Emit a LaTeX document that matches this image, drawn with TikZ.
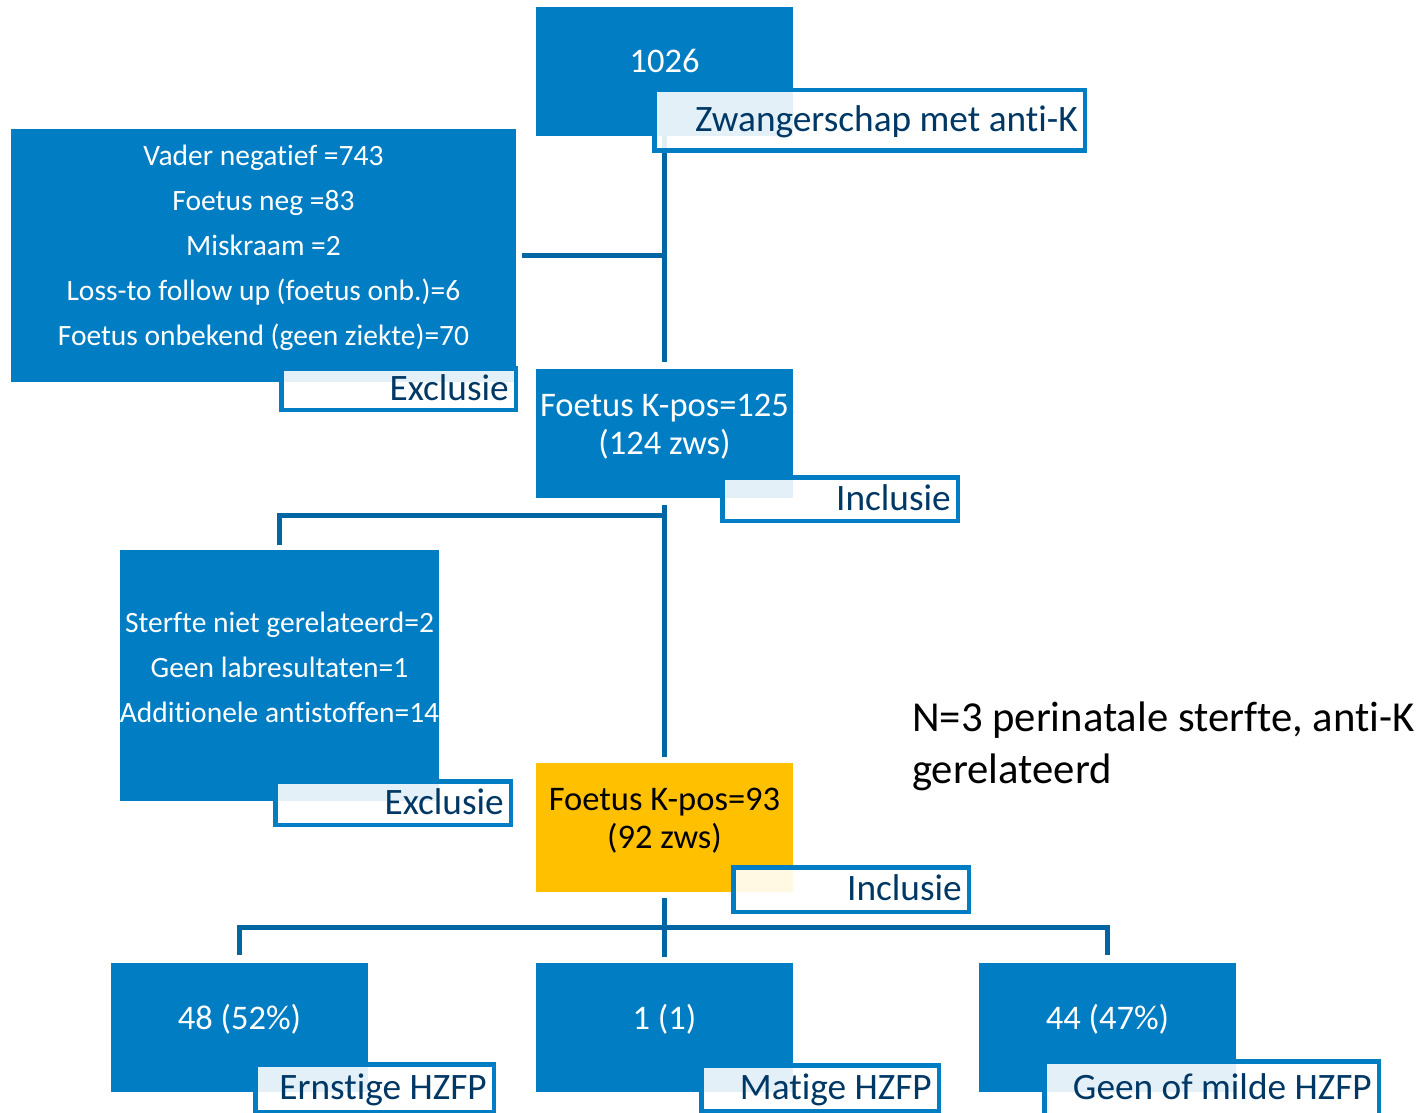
\documentclass[tikz,border=0pt]{standalone}
\usepackage{fontspec}
\setmainfont{Carlito}[Ligatures={NoCommon}]
\usepackage{tikz}
\usetikzlibrary{positioning}
\definecolor{boxblue}{RGB}{0,125,195}
\definecolor{linkblue}{RGB}{0,101,163}
\definecolor{tagnavy}{RGB}{0,56,101}
\definecolor{gold}{RGB}{255,192,0}

\begin{document}
\begin{tikzpicture}[x=1pt, y=-1pt,
  box/.style={fill=boxblue, anchor=north west, inner sep=0pt, outer sep=0pt, minimum width=257pt, minimum height=129pt},
  boxtext/.style={text=white, align=center, inner sep=0pt, font=\fontsize{34.5}{38}\selectfont},
  listtext/.style={text=white, align=center, inner sep=0pt, font=\fontsize{29.5}{45}\selectfont},
  tag/.style={draw=boxblue, line width=4.5pt, fill=white, fill opacity=0.89, text opacity=1, text=tagnavy, anchor=north west, outer sep=0pt, inner xsep=7pt, inner ysep=0pt, align=flush right, text height=27pt, text depth=5pt, font=\fontsize{37.3}{40}\selectfont},
  link/.style={draw=linkblue, line width=5pt}]
\useasboundingbox (0,0) rectangle (1428,1113);
\clip (0,0) rectangle (1428,1113);

\node[box] (b1026) at (536,7) {};
\node[boxtext] (t1026) at ([yshift=11pt]b1026.center) {1026};
\node[box, minimum width=505pt, minimum height=253pt] (bexcl1) at (11,129) {};
\node[listtext] (texcl1) at ([yshift=8pt]bexcl1.center) {Vader negatief =743\\Foetus neg =83\\Miskraam =2\\Loss-to follow up (foetus onb.)=6\\Foetus onbekend (geen ziekte)=70};
\node[box] (bincl1) at (536,369) {};
\node[boxtext] (tincl1) at ([yshift=7pt]bincl1.center) {Foetus K-pos=125\\(124 zws)};
\node[box, minimum width=319pt, minimum height=251pt] (bexcl2) at (120,550) {};
\node[listtext] (texcl2) at ([yshift=8pt]bexcl2.center) {Sterfte niet gerelateerd=2\\Geen labresultaten=1\\Additionele antistoffen=14};
\node[box, fill=gold] (bincl2) at (536,763) {};
\node[boxtext, text=black] (tincl2) at ([yshift=7pt]bincl2.center) {Foetus K-pos=93\\(92 zws)};
\node[box] (bsev) at (111,963) {};
\node[boxtext] (tsev) at ([yshift=8pt]bsev.center) {48 (52\%)};
\node[box] (bmod) at (536,963) {};
\node[boxtext] (tmod) at ([yshift=8pt]bmod.center) {1 (1)};
\node[box] (bmild) at (979,963) {};
\node[boxtext] (tmild) at ([yshift=8pt]bmild.center) {44 (47\%)};

\draw[link, shorten >=7pt] (b1026.south) -- (bincl1.north);
\draw[link, shorten <=6pt] (bexcl1.east) -- (bexcl1.east -| b1026.south);
\draw[link, shorten <=7pt, shorten >=6pt] (bincl1.south) -- (bincl2.north);
\draw[link, shorten <=5pt] (bexcl2.north) |- ([yshift=-17pt]bincl1.south);
\draw[link, shorten <=6pt, shorten >=6pt] (bincl2.south) -- (bmod.north);
\coordinate (split) at ([yshift=-35pt]bincl2.south);
\draw[link, shorten <=8pt, shorten >=8pt] (bsev.north) |- (split) -| (bmild.north);

\node[tag, text width=416.5pt, minimum height=60.5pt] (lzw) at (654.25,90.25) {Zwangerschap met anti-K};
\node[tag, text width=220.5pt, minimum height=41.5pt] (lexcl1) at (281.25,368.25) {Exclusie};
\node[tag, text width=221.5pt, minimum height=43.5pt] (lincl1) at (722.25,477.25) {Inclusie};
\node[tag, text width=221.5pt, minimum height=43.5pt] (lexcl2) at (275.25,781.25) {Exclusie};
\node[tag, text width=221.5pt, minimum height=44.5pt] (lincl2) at (733.25,867.25) {Inclusie};
\node[tag, text width=224.5pt, minimum height=48pt] (lsev) at (255.25,1064.25) {Ernstige HZFP};
\node[tag, text width=223.5pt, minimum height=46pt] (lmod) at (701.25,1065.25) {Matige HZFP};
\node[tag, text width=320.5pt, minimum height=54pt] (lmild) at (1044.25,1061.25) {Geen of milde HZFP};

\node[anchor=base west, align=left, inner sep=0pt, font=\fontsize{42.7}{52}\selectfont] (note) at (912,783) {N=3 perinatale sterfte, anti-K\\gerelateerd};
\end{tikzpicture}
\end{document}
